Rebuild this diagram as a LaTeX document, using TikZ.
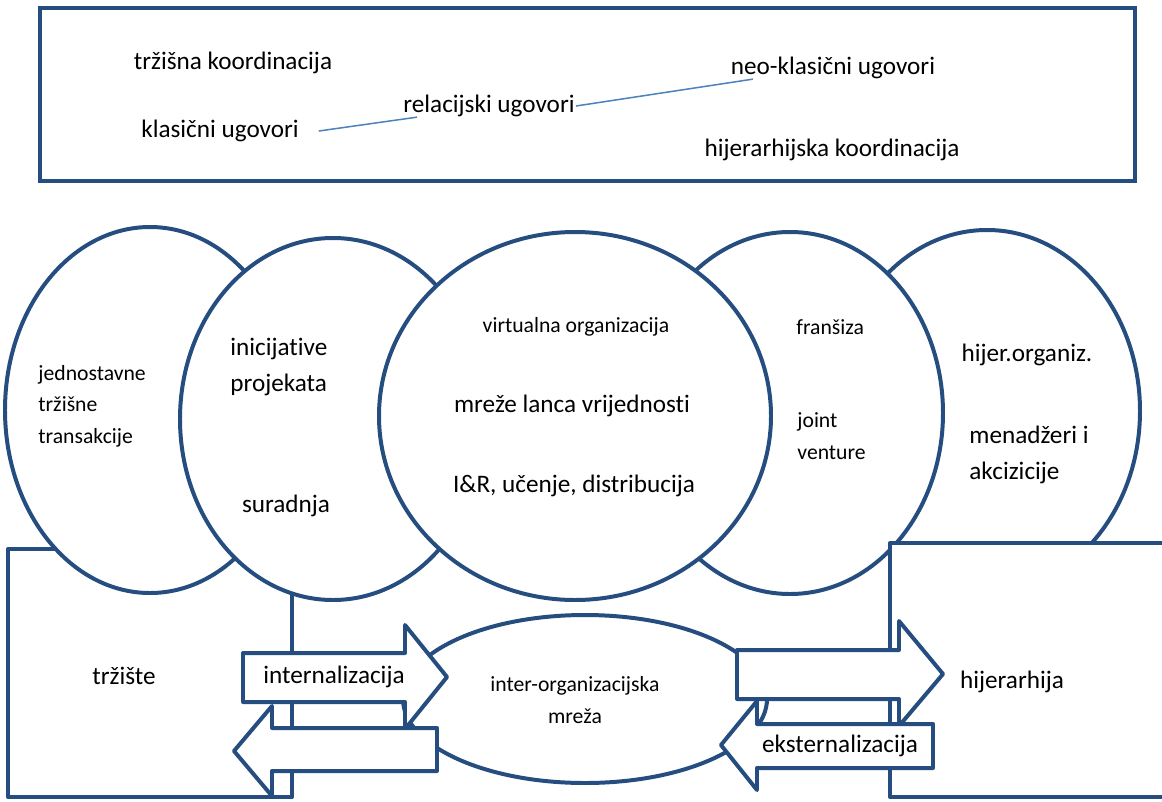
\documentclass[tikz,border=0pt]{standalone}
\usepackage{fontspec}
\setmainfont{Carlito}[Ligatures={NoCommon,NoContextual}]
\definecolor{frameblue}{RGB}{37,77,128}
\definecolor{lineblue}{RGB}{79,129,189}

\begin{document}
\begin{tikzpicture}[x=0.03cm,y=0.03cm,
  outline/.style={draw=frameblue,line width=3.4pt,fill=white,line join=round},
  bigtxt/.style={font=\fontsize{21.5}{30.5}\selectfont,inner sep=1pt},
  smalltxt/.style={font=\fontsize{18.5}{27}\selectfont,inner sep=1pt}]
\useasboundingbox (0,0) rectangle (1162,-801);

% Top box: coordination and contracts
\draw[draw=frameblue,line width=4.2pt] (40,-8) rectangle (1135,-181);
\node[bigtxt] (trzkoord) at (233,-63) {tržišna koordinacija};
\node[bigtxt] (klasicni) at (220,-131) {klasični ugovori};
\node[bigtxt] (relacijski) at (489,-106) {relacijski ugovori};
\node[bigtxt] (neoklasicni) at (833,-68) {neo-klasični ugovori};
\node[bigtxt] (hijkoord) at (832,-150) {hijerarhijska koordinacija};
\draw[lineblue,line width=1.3pt] ([xshift=16pt]klasicni.east) -- ([xshift=0.45cm,yshift=1pt]relacijski.south west);
\draw[lineblue,line width=1.3pt] (relacijski.east) -- ([xshift=0.7cm,yshift=1pt]neoklasicni.south west);

% Market box
\draw[outline] (8,-549) rectangle (292,-797);
\node[bigtxt] (trziste) at (124,-676) {tržište};

% Simple market transactions
\draw[outline] (150,-410) ellipse (145 and 183);
\node[smalltxt,align=left,anchor=west] (jednostavne) at (37,-406) {jednostavne\\tržišne\\transakcije};

% Projects and cooperation
\draw[outline] (333,-419) ellipse (153 and 181);
\node[bigtxt,align=left,anchor=west] (inicijative) at (229,-367) {inicijative\\projekata};
\node[bigtxt] (suradnja) at (286,-506) {suradnja};

% Hierarchical organization
\draw[outline] (987,-411) ellipse (153 and 181);
\node[bigtxt] (hijorg) at (1027,-355) {hijer.organiz.};
\node[bigtxt,align=left,anchor=west] (menadzeri) at (968,-455) {menadžeri i\\akcizicije};

% Franchise and joint venture
\draw[outline] (790,-413) ellipse (153 and 181);
\node[smalltxt,anchor=west] (fransiza) at (795,-327) {franšiza};
\node[smalltxt,align=left,anchor=west] (joint) at (796,-436) {joint\\venture};

% Virtual organization, value chain networks
\draw[outline] (575,-416) ellipse (196 and 184);
\node[smalltxt] (virtualna) at (576,-327) {virtualna organizacija};
\node[bigtxt] (mreze) at (572,-406) {mreže lanca vrijednosti};
\node[bigtxt] (iir) at (574,-486) {I\&R, učenje, distribucija};

% Hierarchy box
\draw[outline] (890,-543) rectangle (1170,-797);
\node[bigtxt] (hijerarhija) at (1012,-682) {hijerarhija};

% Inter-organizational network
\draw[outline] (585,-699) ellipse (182 and 84);
\node[smalltxt,align=center] (interorg) at (575,-700) {inter-organizacijska\\mreža};

% Block arrows
\draw[outline] (243,-653) -- (405,-653) -- (405,-625) -- (447,-677) -- (405,-729) -- (405,-702) -- (243,-702) -- cycle;
\node[bigtxt] (internal) at (334,-677) {internalizacija};
\draw[outline] (437,-728) -- (272,-728) -- (272,-706) -- (234,-751) -- (272,-796) -- (272,-771) -- (437,-771) -- cycle;
\draw[outline] (737,-650) -- (899,-650) -- (899,-621) -- (943,-674) -- (899,-726) -- (899,-699) -- (737,-699) -- cycle;
\draw[outline] (933,-724) -- (757,-724) -- (757,-701) -- (721,-745) -- (757,-790) -- (757,-768) -- (933,-768) -- cycle;
\node[bigtxt] (external) at (840,-746) {eksternalizacija};
\end{tikzpicture}
\end{document}
